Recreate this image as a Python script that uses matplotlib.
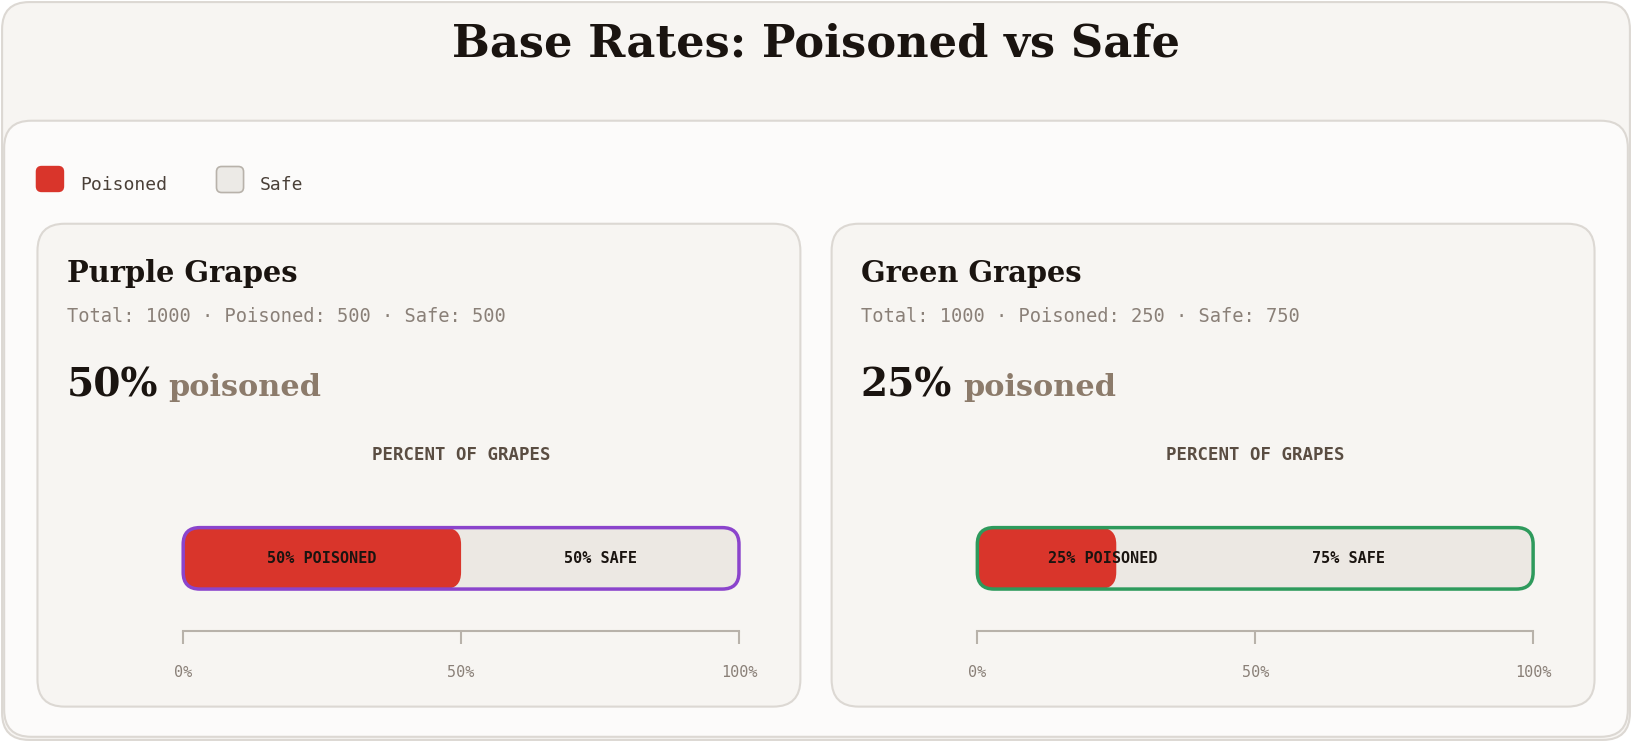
import matplotlib
matplotlib.use("Agg")
import matplotlib.pyplot as plt
from matplotlib.patches import FancyBboxPatch

title = "Base Rates: Poisoned vs Safe"
groups = ["Purple Grapes", "Green Grapes"]
totals = [1000, 1000]
poisoned = [500, 250]
safe = [500, 750]
pct_poisoned = [50, 25]
border_colors = ["#8b44cc", "#2e9a5c"]
tick_vals = [0, 50, 100]
tick_labels = ["0%", "50%", "100%"]

# layout coordinate system (reference units)
W, H = 1568, 713
FS = 1.04
RED = "#d9352b"
SAFE = "#ece8e3"
SERIF = ["DejaVu Serif"]
MONO = ["DejaVu Sans Mono"]

fig = plt.figure(figsize=(16.32, 7.42), dpi=100)
fig.patch.set_facecolor("white")
bg = fig.add_axes([0, 0, 1, 1])
bg.set_xlim(0, W); bg.set_ylim(H, 0); bg.axis("off")

def rbox(x0, y0, x1, y1, r, fc, ec, lw=1.5, z=1):
    bg.add_patch(FancyBboxPatch((x0, y0), x1-x0, y1-y0,
        boxstyle=f"round,pad=0,rounding_size={r}", fc=fc, ec=ec, lw=lw, zorder=z))

rbox(2, 2, 1566, 711, 26, "#f7f5f2", "#dcd8d3", 1.5, 0)
rbox(4, 116, 1564, 708, 26, "#fcfbfa", "#dcd8d3", 1.5, 1)
bg.text(784, 42, title, ha="center", va="center", fontsize=31*FS, fontweight="bold",
        family=SERIF, color="#1a1410")

# legend
rbox(35, 160, 61, 184, 5, RED, RED, 1, 2)
bg.text(77, 178, "Poisoned", fontsize=12.5*FS, family=MONO, color="#4a4038", va="center")
rbox(208, 160, 234, 185, 5, "#eceae6", "#b8b2aa", 1.2, 2)
bg.text(250, 178, "Safe", fontsize=12.5*FS, family=MONO, color="#4a4038", va="center")

panels_x = [36, 799]
for i, g in enumerate(groups):
    px = panels_x[i]
    rbox(px, 215, px+733, 679, 26, "#f7f5f2", "#dcd8d3", 1.5, 2)
    tx = px + 28
    bg.text(tx, 263, g, fontsize=20*FS, fontweight="bold", family=SERIF,
            color="#1a1410", va="center", zorder=3)
    bg.text(tx, 304, f"Total: {totals[i]} · Poisoned: {poisoned[i]} · Safe: {safe[i]}",
            fontsize=13*FS, family=MONO, color="#8a8078", va="center", zorder=3)
    bg.text(tx, 370, f"{pct_poisoned[i]}%", fontsize=27*FS, fontweight="bold",
            family=SERIF, color="#1a1410", va="center", zorder=3)
    bg.text(tx + 98, 372, "poisoned", fontsize=21*FS, fontweight="bold", family=SERIF,
            color="#8c7b6b", va="center", zorder=3)
    bx0, bx1 = px + 140, px + 674
    bg.text((bx0+bx1)/2, 437, "PERCENT OF GRAPES", fontsize=12*FS, fontweight="bold",
            family=MONO, color="#5a4d42", ha="center", va="center", zorder=3)

    ax = fig.add_axes([bx0/W, 1-606/H, (bx1-bx0)/W, 106/H])
    ax.set_xlim(0, 100); ax.set_ylim(0, 1)
    ax.patch.set_alpha(0)
    for s in ["top", "left", "right"]:
        ax.spines[s].set_visible(False)
    ax.spines["bottom"].set_color("#b8b2aa"); ax.spines["bottom"].set_linewidth(1.5)
    ax.set_yticks([])
    ax.set_xticks(tick_vals)
    ax.set_xticklabels(tick_labels, family=MONO, fontsize=10.5*FS, color="#8a8078")
    ax.tick_params(axis="x", length=9, width=1.5, color="#b8b2aa", pad=16)
    aspect = (1/106) / (100/(bx1-bx0))
    y0, h = 0.377, 0.557
    v = pct_poisoned[i]
    ax.add_patch(FancyBboxPatch((0, y0), 100, h, boxstyle="round,pad=0,rounding_size=3",
                 mutation_aspect=aspect, fc=SAFE, ec="none", clip_on=False))
    ax.add_patch(FancyBboxPatch((0, y0), v, h, boxstyle="round,pad=0,rounding_size=3",
                 mutation_aspect=aspect, fc=RED, ec="none", clip_on=False))
    ax.add_patch(FancyBboxPatch((0, y0), 100, h, boxstyle="round,pad=0,rounding_size=3",
                 mutation_aspect=aspect, fc="none", ec=border_colors[i], lw=2.5, clip_on=False))
    lx = max(v/2, 22.6)
    sx = max((100+v)/2, lx + 44.2)
    ax.text(lx, y0+h/2, f"{v}% POISONED", ha="center", va="center", fontsize=10.5*FS,
            fontweight="bold", family=MONO, color="#1a1410")
    ax.text(sx, y0+h/2, f"{100-v}% SAFE", ha="center", va="center", fontsize=10.5*FS,
            fontweight="bold", family=MONO, color="#1a1410")

fig.savefig("out.png", dpi=100)
